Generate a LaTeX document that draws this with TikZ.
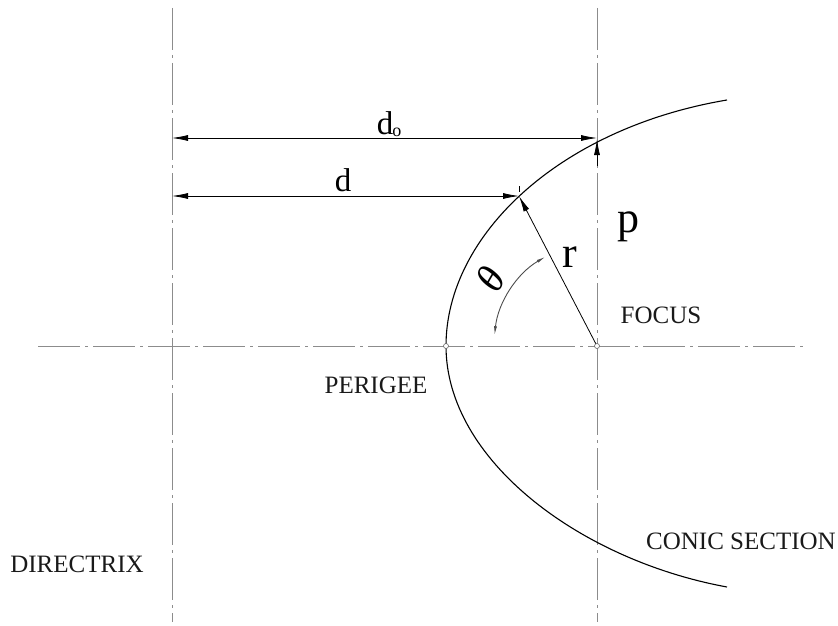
\documentclass[tikz,border=0pt]{standalone}
\usepackage{fontspec}
\setmainfont{Liberation Serif}
\usetikzlibrary{arrows.meta,calc}
\begin{document}
\begin{tikzpicture}[x=1pt,y=-1pt,
  centerline/.style={draw=black!45,line width=0.6pt,dash pattern=on 42pt off 5pt on 3pt off 5pt},
  dimline/.style={draw=black,line width=0.8pt},
  tipstyle/.style={-{Latex[length=16pt,width=6pt]}},
  bothtips/.style={{Latex[length=16pt,width=6pt]}-{Latex[length=16pt,width=6pt]}},
  conic/.style={draw=black,line width=1.1pt},
  caps/.style={font=\fontsize{25}{28}\selectfont,text=black!90,inner sep=0pt,anchor=base},
  biglabel/.style={font=\fontsize{44}{48}\selectfont,inner sep=0pt,anchor=base},
  midlabel/.style={font=\fontsize{33}{36}\selectfont,inner sep=0pt,anchor=base},
  marker/.style={draw=black!60,line width=0.6pt,fill=white}]
\useasboundingbox (0,0) rectangle (838,626);
% key points
\coordinate (F) at (597,346);
\coordinate (Per) at (446,346);
\coordinate (Top) at (727,100);
\coordinate (Bot) at (727,587);
\coordinate (D) at (519,196);
\coordinate (P) at (597,139);
\coordinate (DirTop) at (172,8);
\coordinate (DirBot) at (172,622);
\coordinate (FocTop) at (597,8);
\coordinate (FocBot) at (597,622);
\coordinate (AxL) at (38,346);
\coordinate (AxR) at (807,346);
\coordinate (Do0) at (172,138);
\coordinate (Do1) at (597,138);
\coordinate (D0) at (172,196);
\coordinate (Pbase) at (597,166);
% center lines
\draw[centerline] (DirTop) -- (DirBot);
\draw[centerline] (FocTop) -- (FocBot);
\draw[centerline] (AxL) -- (AxR);
% conic section
\draw[conic] (Top) .. controls (560,128) and (446,235) .. (Per) .. controls (446,460) and (580,560) .. (Bot);
% dimension lines
\draw[dimline,bothtips] (Do0) -- (Do1);
\draw[dimline,bothtips] (D0) -- (D);
\draw[dimline,tipstyle] (F) -- (D);
\draw[dimline,tipstyle] (Pbase) -- (P);
\draw[black,line width=0.6pt] (519,186) -- (519,192);
% angle arc
\draw[black!70,line width=0.9pt,{Latex[length=9pt,width=3pt]}-{Latex[length=9pt,width=3pt]}] ($(F)+(186:103)$) arc[start angle=186,end angle=240,radius=103];
% markers
\draw[marker] (Per) circle (2.5);
\draw[marker] (F) circle (2.5);
% labels
\node[caps] (dirlab) at (77,572) {DIRECTRIX};
\node[caps] (conlab) at (741,549) {CONIC SECTION};
\node[caps] (foclab) at (661,323) {FOCUS};
\node[caps] (perlab) at (376,393) {PERIGEE};
\node[midlabel] (dlab) at (343,191) {d};
\node[midlabel] (dolab) at (389,134) {d\kern-1pt\raisebox{-2pt}{\fontsize{18}{20}\selectfont o}};
\node[biglabel] (rlab) at (570,267) {r};
\node[biglabel] (plab) at (628,232) {p};
\node[font=\fontsize{40}{44}\selectfont\itshape,inner sep=0pt,rotate=60] (thlab) at (490,279) {θ};
\end{tikzpicture}
\end{document}
